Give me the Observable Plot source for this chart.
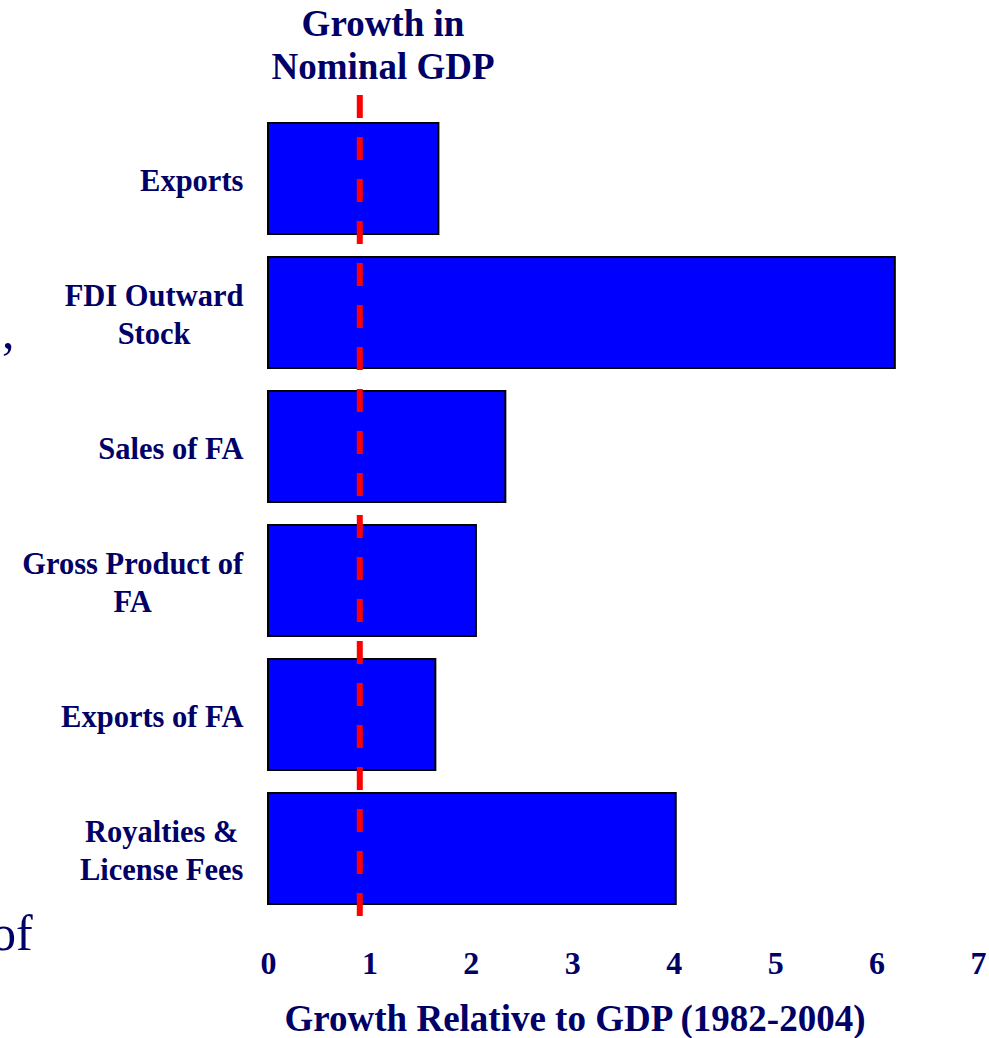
<!DOCTYPE html>
<html><head><meta charset="utf-8">
<script src="https://cdn.jsdelivr.net/npm/d3@7"></script>
<script src="https://cdn.jsdelivr.net/npm/@observablehq/plot@0.6"></script>
<style>
body{margin:0;background:#fff;}
#wrap{position:relative;width:989px;height:1038px;overflow:hidden;font-family:"Liberation Serif","Times New Roman",serif;color:#000066;}
.ov{position:absolute;white-space:nowrap;}
#title{left:383px;top:2px;transform:translateX(-50%);text-align:center;font-size:37px;font-weight:bold;line-height:43px;}
#xlabel{left:575px;top:997px;transform:translateX(-50%);font-size:37px;font-weight:bold;line-height:43px;}
.stray{font-size:50px;line-height:50px;font-weight:normal;}
</style></head><body><div id="wrap">
<div class="ov" id="title">Growth in<br>Nominal GDP</div>
<div class="ov" id="xlabel">Growth Relative to GDP (1982-2004)</div>
<div class="ov stray" style="left:2px;top:306px;">,</div>
<div class="ov stray" style="left:-9px;top:908px;">of</div>
</div>
<script>
const categories = ["Exports", "FDI Outward\nStock", "Sales of FA", "Gross Product of\nFA", "Exports of FA", "Royalties &\nLicense Fees"];
const values = [1.68, 6.18, 2.34, 2.05, 1.65, 4.02];
const gdpLine = [0.9];
const xTicks = [0, 1, 2, 3, 4, 5, 6, 7];

const data = categories.map((c, i) => ({category: c, value: values[i]}));
const navy = "#000066";

const chart = Plot.plot({
  width: 989, height: 1038,
  marginLeft: 268, marginRight: 11, marginTop: 95, marginBottom: 106,
  style: {fontFamily: "'Liberation Serif', 'Times New Roman', serif", background: "transparent"},
  x: {domain: [0, 7], ticks: xTicks},
  y: {domain: categories, paddingInner: 0.168, paddingOuter: 0.193},
  marks: [
    Plot.barX(data, {x: "value", y: "category", fill: "#0000ff", stroke: "#000", strokeWidth: 2}),
    Plot.ruleX(gdpLine, {stroke: "#ff0000", strokeWidth: 6, strokeDasharray: "23,19"}),
    Plot.axisX({ticks: xTicks, tickFormat: d3.format("d"), tickSize: 0, tickPadding: 19, fontSize: 32, fontWeight: "bold", fill: navy, label: null}),
    Plot.axisY({tickSize: 0, tickPadding: 25, fontSize: 30.5, fontWeight: "bold", fill: navy, label: null, textAnchor: "middle", lineHeight: 1.23})
  ]
});
chart.style.position = "absolute";
chart.style.left = "0px";
chart.style.top = "0px";
const wrap = document.getElementById("wrap");
wrap.insertBefore(chart, wrap.firstChild);

// right-align each centered multi-line y label block
const yAxis = chart.querySelector('g[aria-label="y-axis tick label"]');
if (yAxis) {
  yAxis.querySelectorAll("text").forEach(t => {
    const w = t.getBBox().width;
    const tr = t.getAttribute("transform") || "";
    t.setAttribute("transform", tr + ` translate(${-w / 2},0)`);
  });
}
</script>
</body></html>
